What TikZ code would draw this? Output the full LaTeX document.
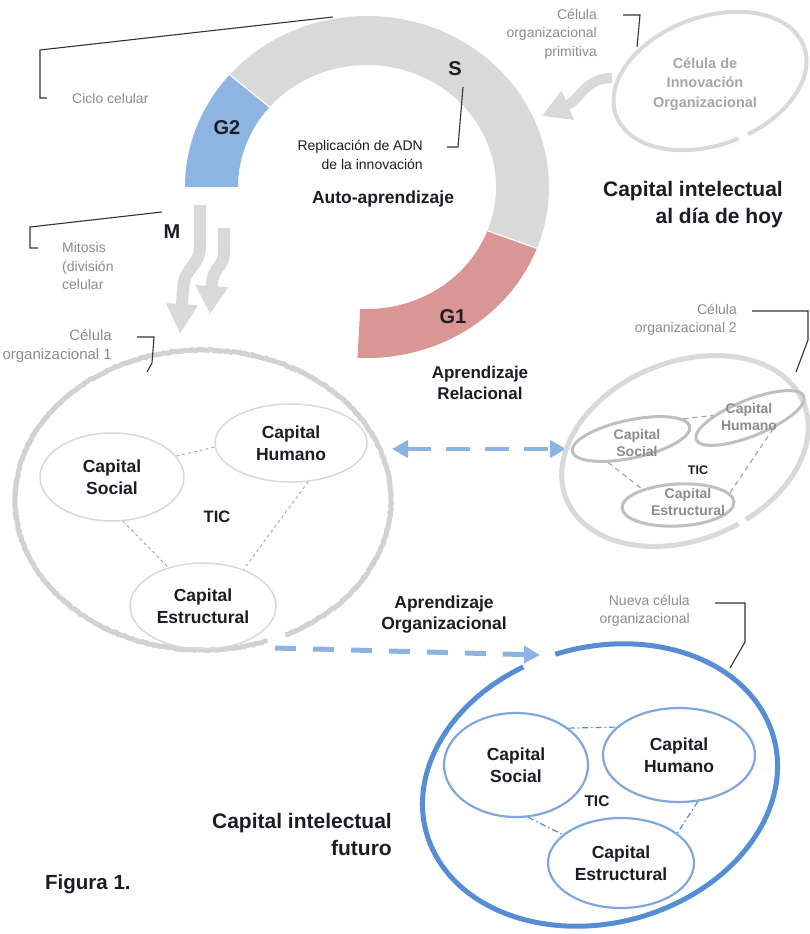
\documentclass[tikz,border=0pt]{standalone}
\usepackage{fontspec}
\setmainfont{Liberation Sans}
\usetikzlibrary{arrows.meta,shapes.geometric,decorations.pathmorphing}
\definecolor{ringgray}{HTML}{D9D9D9}
\definecolor{g2col}{HTML}{8EB4E3}
\definecolor{g1col}{HTML}{D99694}
\definecolor{labcol}{HTML}{8C8C8C}
\definecolor{txtdark}{HTML}{1C1C24}
\definecolor{cellone}{HTML}{D2D2D2}
\definecolor{celltwo}{HTML}{D9D9D9}
\definecolor{innertwo}{HTML}{BFBFBF}
\definecolor{bluedashcol}{HTML}{8DB3E2}
\definecolor{cellthree}{HTML}{558ED5}
\definecolor{innerthree}{HTML}{7FA7DD}
\definecolor{dotthree}{HTML}{5B8BD0}
\definecolor{innovtxt}{HTML}{A6A6A6}
\tikzset{bluehead/.tip={Triangle[length=16pt,width=17pt]}}
\begin{document}
\begin{tikzpicture}[x=1pt,y=1pt,
  lab/.style={font=\fontsize{14}{18.5}\selectfont, text=labcol, inner sep=0pt},
  boldtxt/.style={font=\bfseries\fontsize{17.5}{22.5}\selectfont, text=txtdark, inner sep=0pt, align=center},
  phase/.style={font=\bfseries\fontsize{20}{24}\selectfont, text=txtdark, inner sep=0pt},
  bigtxt/.style={font=\bfseries\fontsize{21}{27}\selectfont, text=txtdark, inner sep=0pt, align=right},
  callout/.style={draw=black!80, line width=1.1pt},
  fatarrow/.style={draw=ringgray, line width=12pt},
  eone/.style={ellipse, draw=ringgray, line width=1.5pt, inner sep=0pt, boldtxt},
  etwo/.style={ellipse, draw=innertwo, line width=3pt, inner sep=0pt},
  ttwo/.style={font=\bfseries\fontsize{14}{16.5}\selectfont, text=labcol, inner sep=0pt, align=center},
  ethree/.style={ellipse, draw=innerthree, line width=2.2pt, inner sep=0pt, boldtxt},
  dlone/.style={draw=innovtxt, line width=0.9pt, dash pattern=on 3pt off 3pt},
  dltwo/.style={draw=innovtxt, line width=1.2pt, dash pattern=on 5pt off 4pt},
  dlthree/.style={draw=dotthree, line width=1.2pt, dash pattern=on 6pt off 3pt on 1.5pt off 3pt},
  bluedash/.style={draw=bluedashcol, line width=4pt, dash pattern=on 24pt off 15pt}
]
\useasboundingbox (0,0) rectangle (809,-934);
\fill[white] (0,0) rectangle (809,-934);

% ---------- cell cycle ring ----------
\fill[ringgray] ([shift={(367,-187)}]139:182pt and 171pt) arc[start angle=139,end angle=-21,x radius=182pt,y radius=171pt]
  -- ([shift={(367,-187)}]-21:129pt and 122pt) arc[start angle=-21,end angle=139,x radius=129pt,y radius=122pt] -- cycle;
\fill[g2col] ([shift={(367,-187)}]180:182pt and 171pt) arc[start angle=180,end angle=139,x radius=182pt,y radius=171pt]
  -- ([shift={(367,-187)}]139:129pt and 122pt) arc[start angle=139,end angle=180,x radius=129pt,y radius=122pt] -- cycle;
\fill[g1col] ([shift={(367,-187)}]-21:182pt and 171pt) arc[start angle=-21,end angle=-93,x radius=182pt,y radius=171pt]
  -- ([shift={(367,-187)}]-93:129pt and 122pt) arc[start angle=-93,end angle=-21,x radius=129pt,y radius=122pt] -- cycle;
\draw[white, line width=1.2pt] ([shift={(367,-187)}]139:127pt and 120pt) -- ([shift={(367,-187)}]139:184pt and 173pt);
\draw[white, line width=1.2pt] ([shift={(367,-187)}]-21:127pt and 120pt) -- ([shift={(367,-187)}]-21:184pt and 173pt);

\node[phase] (S) at (455,-69) {S};
\node[phase] (G2) at (227,-128) {G2};
\node[phase] (G1) at (453,-317) {G1};
\node[phase] (M) at (172,-232) {M};
\node[boldtxt] (auto) at (383,-199) {Auto-aprendizaje};
\node[lab, text=txtdark, align=right, anchor=east] (repl) at (423,-155) {Replicación de ADN\\de la innovación};

% callouts of the ring
\coordinate (cc1) at (333,-17); \coordinate (cc2) at (40,-50); \coordinate (cc3) at (40,-98); \coordinate (cc4) at (47,-98);
\draw[callout] (cc1) -- (cc2) -- (cc3) -- (cc4);
\node[lab, anchor=west] (ciclo) at (72,-98) {Ciclo celular};
\coordinate (sc1) at (463,-87); \coordinate (sc2) at (458,-147); \coordinate (sc3) at (447,-147);
\draw[callout] (sc1) -- (sc2) -- (sc3);

% ---------- primitive cell ----------
\begin{scope}[shift={(710,-81)}, rotate=20]
  \draw[draw=celltwo, line width=4pt] (-80:100pt and 64pt) arc[start angle=-80,end angle=274,x radius=100pt,y radius=64pt];
\end{scope}
\node[font=\bfseries\fontsize{14.5}{19.5}\selectfont, text=innovtxt, align=center, inner sep=0pt] (innov) at (705,-84) {Célula de\\Innovación\\Organizacional};
\node[lab, align=right, anchor=east] (prim) at (597,-34) {Célula\\organizacional\\primitiva};
\coordinate (pc1) at (623,-15); \coordinate (pc2) at (640,-15); \coordinate (pc3) at (637,-47);
\draw[callout] (pc1) -- (pc2) -- (pc3);
\coordinate (ca1) at (612,-78); \coordinate (ca2) at (542,-116);
\draw[draw=ringgray, line width=10pt, -{Triangle[length=28pt,width=30pt]}] (ca1) .. controls (585,-78) and (580,-100) .. (ca2);

\node[bigtxt, anchor=east] (cihoy) at (783,-205) {Capital intelectual\\al día de hoy};

% ---------- mitosis arrows ----------
\coordinate (m1s) at (200,-205); \coordinate (m1e) at (180,-334);
\draw[fatarrow, -{Triangle[length=30pt,width=30pt]}] (m1s) -- (200,-245) .. controls (200,-268) and (184,-265) .. (183,-290) -- (m1e);
\coordinate (m2s) at (224,-228); \coordinate (m2e) at (210,-314);
\draw[fatarrow, -{Triangle[length=28pt,width=31pt]}] (m2s) -- (224,-252) .. controls (224,-268) and (213,-266) .. (212,-284) -- (m2e);
\coordinate (mt1) at (162,-212); \coordinate (mt2) at (30,-227); \coordinate (mt3) at (30,-248); \coordinate (mt4) at (38,-248);
\draw[callout] (mt1) -- (mt2) -- (mt3) -- (mt4);
\node[lab, align=left, anchor=west] (mit) at (62,-266) {Mitosis\\(división\\celular};

% ---------- cell 1 ----------
\draw[draw=cellone, line width=5pt, decorate, decoration={random steps, segment length=2pt, amplitude=0.6pt}]
  ([shift={(203,-500)}]-64:188pt and 150pt) arc[start angle=-64,end angle=290,x radius=188pt,y radius=150pt];
\node[lab, font=\fontsize{15}{19}\selectfont, align=right, anchor=east] (org1) at (112,-346) {Célula\\organizacional 1};
\coordinate (o1a) at (137,-337); \coordinate (o1b) at (154,-337); \coordinate (o1c) at (152,-363); \coordinate (o1d) at (147,-372);
\draw[callout] (o1a) -- (o1b) -- (o1c) -- (o1d);

\node[eone, minimum width=144pt, minimum height=88pt] (s1) at (112,-477) {Capital\\Social};
\node[eone, minimum width=152pt, minimum height=78pt] (h1) at (291,-443) {Capital\\Humano};
\node[eone, minimum width=146pt, minimum height=86pt] (e1) at (203,-606) {Capital\\Estructural};
\node[boldtxt, font=\bfseries\fontsize{16.5}{20}\selectfont] (tic1) at (217,-517) {TIC};
\draw[dlone] (s1.18) -- (h1.183);
\draw[dlone] (s1.-76) -- (e1.132);
\draw[dlone] (h1.-66) -- (e1.42);

% ---------- relational learning ----------
\node[boldtxt, font=\bfseries\fontsize{17}{21}\selectfont] (arel) at (480,-383) {Aprendizaje\\Relacional};
\coordinate (rl) at (392,-449); \coordinate (rr) at (566,-449);
\draw[bluedash, {bluehead}-{bluehead}] (rl) -- (rr);

% ---------- cell 2 ----------
\begin{scope}[shift={(685,-451)}, rotate=22]
  \draw[draw=celltwo, line width=5pt] (-76:128pt and 89pt) arc[start angle=-76,end angle=280,x radius=128pt,y radius=89pt];
\end{scope}
\node[lab, align=right, anchor=east] (org2) at (737,-320) {Célula\\organizacional 2};
\coordinate (o2a) at (752,-311); \coordinate (o2b) at (808,-311); \coordinate (o2c) at (808,-340); \coordinate (o2d) at (796,-372);
\draw[callout] (o2a) -- (o2b) -- (o2c) -- (o2d);
\node[etwo, minimum width=120pt, minimum height=38pt, rotate=12] (s2) at (631,-439) {};
\node[etwo, minimum width=116pt, minimum height=36pt, rotate=22] (h2) at (750,-418) {};
\node[etwo, minimum width=112pt, minimum height=42pt, rotate=3] (e2) at (678,-505) {};
\node[ttwo] (s2t) at (637,-443) {Capital\\Social};
\node[ttwo] (h2t) at (749,-417) {Capital\\Humano};
\node[ttwo] (e2t) at (688,-502) {Capital\\Estructural};
\node[boldtxt, font=\bfseries\fontsize{12.5}{15}\selectfont] (tic2) at (698,-470) {TIC};
\draw[dltwo] (s2.9) -- (h2.154);
\draw[dltwo] (s2.-146) -- (e2.153);
\draw[dltwo] (h2.-47) -- (e2.10);

% ---------- organizational learning ----------
\node[boldtxt, font=\bfseries\fontsize{17.5}{21}\selectfont] (aorg) at (444,-615) {Aprendizaje\\Organizacional};
\coordinate (ol) at (275,-648); \coordinate (or) at (540,-655);
\draw[bluedash, line width=5pt, dash pattern=on 21pt off 17pt, -{bluehead}] (ol) -- (or);

% ---------- new cell ----------
\begin{scope}[shift={(600,-785)}, rotate=15]
  \draw[draw=cellthree, line width=5pt] (104:180pt and 138pt) arc[start angle=104,end angle=453,x radius=180pt,y radius=138pt];
\end{scope}
\node[lab, align=right, anchor=east] (nueva) at (690,-611) {Nueva célula\\organizacional};
\coordinate (n1) at (715,-603); \coordinate (n2) at (745,-603); \coordinate (n3) at (745,-642); \coordinate (n4) at (730,-668);
\draw[callout] (n1) -- (n2) -- (n3) -- (n4);
\node[ethree, minimum width=144pt, minimum height=104pt] (s3) at (516,-765) {Capital\\Social};
\node[ethree, minimum width=152pt, minimum height=94pt] (h3) at (679,-755) {Capital\\Humano};
\node[ethree, minimum width=146pt, minimum height=90pt] (e3) at (621,-863) {Capital\\Estructural};
\node[boldtxt, font=\bfseries\fontsize{15.5}{19}\selectfont] (tic3) at (597,-801) {TIC};
\draw[dlthree] (s3.35) -- (h3.156);
\draw[dlthree] (s3.-77) -- (e3.154);
\draw[dlthree] (h3.-68) -- (e3.28);

\node[bigtxt, anchor=east] (cifut) at (392,-834) {Capital intelectual\\futuro};
\node[bigtxt, font=\bfseries\fontsize{20.5}{24}\selectfont, anchor=west] (fig) at (45,-884) {Figura 1.};
\end{tikzpicture}
\end{document}
